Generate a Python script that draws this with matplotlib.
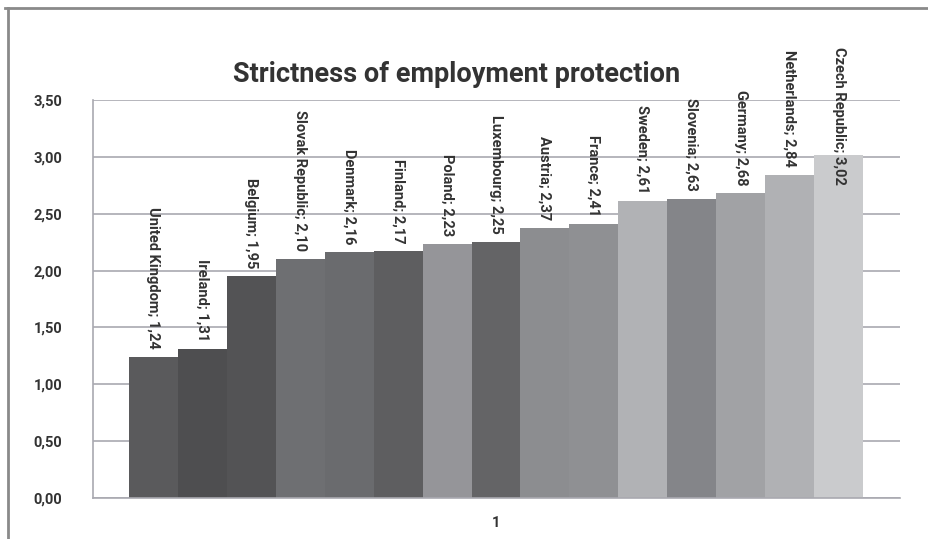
import matplotlib
matplotlib.use("Agg")
import matplotlib.pyplot as plt
from matplotlib.lines import Line2D

countries = ["United Kingdom", "Ireland", "Belgium", "Slovak Republic", "Denmark",
             "Finland", "Poland", "Luxembourg", "Austria", "France", "Sweden",
             "Slovenia", "Germany", "Netherlands", "Czech Republic"]
values = [1.24, 1.31, 1.95, 2.10, 2.16, 2.17, 2.23, 2.25, 2.37, 2.41, 2.61,
          2.63, 2.68, 2.84, 3.02]
colors = ["#5a5a5c", "#4e4e50", "#535355", "#6e6f72", "#6a6b6e", "#5e5e60",
          "#959599", "#646466", "#8c8d90", "#8f9093", "#b1b2b5", "#848589",
          "#a1a2a5", "#b0b1b4", "#cacbcd"]
yticks = [0.0, 0.5, 1.0, 1.5, 2.0, 2.5, 3.0, 3.5]
xcat = "1"
title = "Strictness of employment protection"

FONT = "Roboto"
TXT = "#333333"

W, H = 929, 539
fig = plt.figure(figsize=(W / 100, H / 100), dpi=100)
fig.patch.set_facecolor("white")

# outer frame (top and left borders visible)
fig.add_artist(Line2D([5 / W, 1], [1 - 8 / H, 1 - 8 / H], transform=fig.transFigure,
                      color="#8a8a8a", lw=2))
fig.add_artist(Line2D([8 / W, 8 / W], [0, 1 - 8 / H], transform=fig.transFigure,
                      color="#8a8a8a", lw=2))

left, right, top, bottom = 93, 900, 100, 498
ax = fig.add_axes([left / W, 1 - bottom / H, (right - left) / W, (bottom - top) / H])

n = len(values)
x0 = (129 - left) / (right - left)
width = (863 - 129) / (right - left) / n
xs = [x0 + width * (i + 0.5) for i in range(n)]
ax.bar(xs, values, width=width, color=colors, edgecolor="none", zorder=2)

ax.set_xlim(0, 1)
ax.set_ylim(0, 3.5)

labels = []
for x, v, c in zip(xs, values, countries):
    t = ax.text(x, v + 0.07, f"{c}; {v:.2f}".replace(".", ","), rotation=270,
                ha="center", va="bottom", fontsize=10.5, fontweight="bold",
                family=FONT, color=TXT, zorder=3)
    labels.append(t)

# keep labels inside the chart area (top limit ~47 px from figure top)
fig.canvas.draw()
r = fig.canvas.get_renderer()
top_limit_px = H - 47
for t in labels:
    bb = t.get_window_extent(r)
    if bb.y1 > top_limit_px:
        shift = bb.y1 - top_limit_px
        xd, yd = t.get_position()
        ypix = ax.transData.transform((xd, yd))[1] - shift
        t.set_position((xd, ax.transData.inverted().transform((0, ypix))[1]))

ax.set_yticks(yticks)
ax.set_yticklabels([f"{t:.2f}".replace(".", ",") for t in yticks],
                   fontsize=10.5, fontweight="bold", family=FONT, color=TXT)
ax.set_xticks([0.5])
ax.set_xticklabels([xcat], fontsize=10.5, fontweight="bold", family=FONT, color=TXT)
ax.tick_params(axis="y", length=0, pad=22)
ax.tick_params(axis="x", length=0, pad=13)
ax.grid(axis="y", color="#a9a9b0", lw=1.2, zorder=0)
for s in ["top", "right"]:
    ax.spines[s].set_visible(False)
for s in ["left", "bottom"]:
    ax.spines[s].set_color("#a9a9b0")
    ax.spines[s].set_linewidth(1.2)
ax.set_axisbelow(True)

fig.text(457 / W, 1 - 75 / H, title, ha="center", va="center", fontsize=19.5,
         fontweight="bold", family=FONT, color=TXT)

fig.savefig("out.png", dpi=100)
